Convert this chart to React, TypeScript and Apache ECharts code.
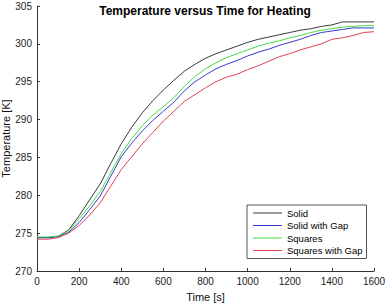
import React, { useEffect, useRef } from "react";
import * as echarts from "echarts";

const times = [0, 50, 100, 150, 200, 250, 300, 350, 400, 450, 500, 550, 600, 650, 700, 750, 800, 850, 900, 950, 1000, 1050, 1100, 1150, 1200, 1250, 1300, 1350, 1400, 1450, 1500, 1550, 1600];

const solid = [274.4, 274.4, 274.6, 275.4, 277.3, 279.4, 281.5, 284.2, 286.8, 289.0, 290.9, 292.5, 293.9, 295.2, 296.4, 297.3, 298.1, 298.7, 299.2, 299.7, 300.2, 300.6, 300.9, 301.2, 301.5, 301.8, 302.0, 302.3, 302.5, 302.9, 302.9, 302.9, 302.9];
const solidGap = [274.4, 274.4, 274.5, 275.1, 276.4, 278.1, 279.9, 282.5, 285.1, 286.9, 288.5, 289.9, 291.1, 292.3, 293.8, 295.0, 295.9, 296.7, 297.3, 297.8, 298.4, 298.9, 299.3, 299.8, 300.2, 300.6, 301.1, 301.5, 301.7, 301.9, 302.1, 302.1, 302.1];
const squares = [274.5, 274.5, 274.6, 275.3, 276.9, 278.6, 280.5, 283.0, 285.5, 287.5, 289.2, 290.6, 291.7, 292.9, 294.4, 295.7, 296.7, 297.5, 298.2, 298.7, 299.2, 299.7, 300.1, 300.4, 300.8, 301.1, 301.5, 301.8, 302.0, 302.2, 302.3, 302.4, 302.4];
const squaresGap = [274.2, 274.2, 274.4, 275.0, 276.0, 277.4, 279.0, 281.2, 283.4, 285.1, 286.8, 288.3, 289.8, 291.1, 292.4, 293.3, 294.2, 295.0, 295.6, 296.0, 296.6, 297.1, 297.7, 298.3, 298.7, 299.2, 299.6, 300.0, 300.6, 300.8, 301.1, 301.5, 301.6];

const seriesNames = ["Solid", "Solid with Gap", "Squares", "Squares with Gap"];
const seriesColors = ["#3a3a3a", "#3b3bd0", "#44dd44", "#dd4455"];
const seriesValues = [solid, solidGap, squares, squaresGap];

export default function App() {
  const ref = useRef<HTMLDivElement>(null);
  useEffect(() => {
    if (!ref.current) return;
    const chart = echarts.init(ref.current, null, { renderer: "svg" });
    const font = "Liberation Sans, Arial, sans-serif";
    chart.setOption({
      animation: false,
      backgroundColor: "#ffffff",
      textStyle: { fontFamily: font },
      title: {
        text: "Temperature versus Time for Heating",
        left: 200,
        textAlign: "center",
        top: 0,
        textStyle: { fontSize: 12, fontWeight: "bold", color: "#000", fontFamily: font },
      },
      grid: { left: 37, right: 13, top: 6, bottom: 33, containLabel: false, outerBoundsMode: "none" },
      xAxis: {
        type: "value",
        min: 0,
        max: 1600,
        interval: 200,
        name: "Time [s]",
        nameLocation: "middle",
        nameGap: 20,
        nameMoveOverlap: false,
        nameTextStyle: { fontSize: 11, color: "#111", fontFamily: font },
        axisLine: { lineStyle: { color: "#333", width: 1 } },
        axisTick: { inside: true, length: 3, lineStyle: { color: "#333" } },
        axisLabel: { fontSize: 10, color: "#222", margin: 5, fontFamily: font, formatter: (v: number) => String(v) },
        splitLine: { show: false },
      },
      yAxis: {
        type: "value",
        min: 270,
        max: 305,
        interval: 5,
        name: "Temperature [K]",
        nameLocation: "middle",
        nameGap: 26,
        nameMoveOverlap: false,
        nameTextStyle: { fontSize: 11, color: "#111", fontFamily: font },
        axisLine: { show: true, lineStyle: { color: "#333", width: 1 } },
        axisTick: { show: true, inside: true, length: 3, lineStyle: { color: "#333" } },
        axisLabel: { fontSize: 10, color: "#222", margin: 5, fontFamily: font, formatter: (v: number) => String(v) },
        splitLine: { show: false },
      },
      legend: {
        orient: "vertical",
        left: 247,
        top: 205,
        width: 118,
        icon: "rect",
        itemWidth: 29,
        itemHeight: 1,
        itemGap: 2.5,
        padding: [3, 4, 3, 6],
        backgroundColor: "#ffffff",
        borderColor: "#555",
        borderWidth: 1,
        borderRadius: 0,
        textStyle: { fontSize: 9.5, color: "#000", fontFamily: font, padding: [0, 0, 0, 0] },
        data: seriesNames,
      },
      series: seriesValues.map((vals, i) => ({
        name: seriesNames[i],
        type: "line",
        symbol: "none",
        showSymbol: false,
        data: times.map((t, j) => [t, vals[j]]),
        lineStyle: { color: seriesColors[i], width: 1 },
        itemStyle: { color: seriesColors[i] },
      })),
    });
    return () => chart.dispose();
  }, []);
  return (
    <div
      ref={ref}
      style={{ position: "fixed", left: 0, top: 0, width: 387, height: 304 }}
    />
  );
}
